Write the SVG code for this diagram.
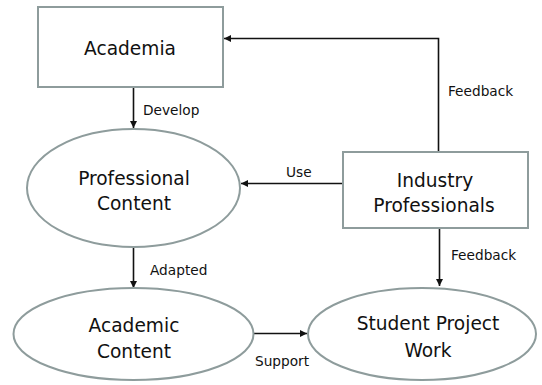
<svg xmlns="http://www.w3.org/2000/svg" width="542" height="385" viewBox="0 0 542 385">
<defs>
<marker id="arr" markerWidth="8" markerHeight="8" refX="7" refY="4" orient="auto" markerUnits="userSpaceOnUse">
<path d="M0,0.5 L7,4 L0,7.5 Z" fill="#111"/>
</marker>
<style>
.node{fill:#fff;stroke:#8e9c9c;stroke-width:2}
.big{font-family:"DejaVu Sans",sans-serif;font-size:18.6px;fill:#111;text-anchor:middle}
.lbl{font-family:"DejaVu Sans",sans-serif;font-size:13.7px;fill:#111}
.edge{fill:none;stroke:#111;stroke-width:1.6}
</style>
</defs>
<rect width="542" height="385" fill="#fff"/>
<g id="connectors">
<line class="edge" x1="133.5" y1="88" x2="133.5" y2="128" marker-end="url(#arr)"/>
<polyline class="edge" points="438.5,152 438.5,38.5 224,38.5" marker-end="url(#arr)"/>
<line class="edge" x1="343" y1="183.5" x2="241" y2="183.5" marker-end="url(#arr)"/>
<line class="edge" x1="133.5" y1="248" x2="133.5" y2="288" marker-end="url(#arr)"/>
<line class="edge" x1="254" y1="333.5" x2="307" y2="333.5" marker-end="url(#arr)"/>
<line class="edge" x1="439.5" y1="229" x2="439.5" y2="286" marker-end="url(#arr)"/>
<text class="lbl" x="143" y="115">Develop</text>
<text class="lbl" x="448" y="96">Feedback</text>
<text class="lbl" x="286" y="177">Use</text>
<text class="lbl" x="150" y="275">Adapted</text>
<text class="lbl" x="255" y="366">Support</text>
<text class="lbl" x="451" y="260">Feedback</text>
</g>
<g id="academia">
<rect class="node" x="38" y="7" width="185" height="80"/>
<text class="big" x="130" y="55">Academia</text>
</g>
<g id="professional-content">
<ellipse class="node" cx="133.5" cy="188" rx="106.5" ry="59"/>
<text class="big" x="134" y="185">Professional</text>
<text class="big" x="134" y="210">Content</text>
</g>
<g id="industry-professionals">
<rect class="node" x="343" y="152" width="185" height="76"/>
<text class="big" x="435" y="187">Industry</text>
<text class="big" x="434" y="212">Professionals</text>
</g>
<g id="academic-content">
<ellipse class="node" cx="133.5" cy="334" rx="120" ry="46"/>
<text class="big" x="134" y="332">Academic</text>
<text class="big" x="134" y="358">Content</text>
</g>
<g id="student-project-work">
<ellipse class="node" cx="422" cy="334" rx="114" ry="46"/>
<text class="big" x="428" y="330">Student Project</text>
<text class="big" x="428" y="357">Work</text>
</g>
</svg>
